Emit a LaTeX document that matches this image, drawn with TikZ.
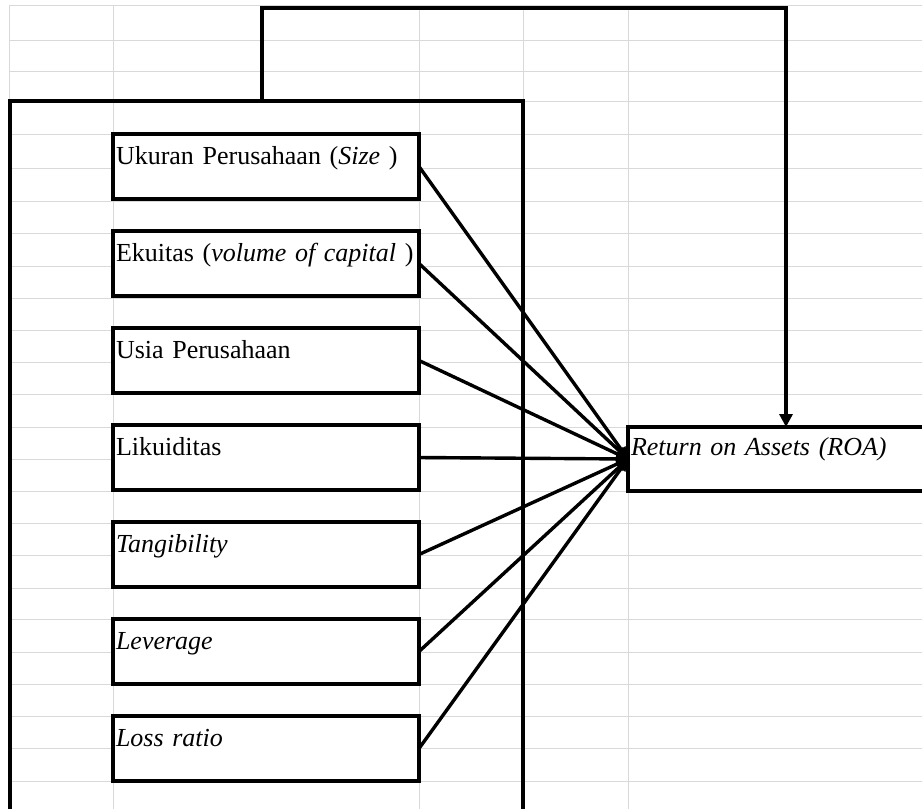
\documentclass[tikz,border=0pt]{standalone}
\usepackage{fontspec}
\setmainfont{Liberation Serif}
\usepackage{xcolor}
\usepackage{tikz}
\usetikzlibrary{arrows.meta, positioning}
\definecolor{gridgray}{HTML}{D9D9D9}

\begin{document}
\begin{tikzpicture}[
  x=1pt, y=-1pt,
  gridline/.style={draw=gridgray, line width=1pt},
  frame/.style={draw=black, line width=3.2pt},
  varbox/.style={draw, line width=3.2pt, fill=white, anchor=north west,
    outer sep=0pt, minimum width=306pt, text width=300pt, align=left,
    inner xsep=3pt, inner ysep=0pt, text height=30pt, text depth=35pt,
    font=\fontsize{26}{30}\selectfont},
  link/.style={line width=3.4pt, -{Triangle[length=12pt, width=10pt]}},
  node distance=32pt,
]
  \useasboundingbox (0,0) rectangle (922,809);
  \clip (0,0) rectangle (922,809);
  \fill[white] (0,0) rectangle (922,809);

  % sheet grid
  \foreach \gy in {5,40,71,101,134,168,201,233,266,298,330,362,394,427,459,491,523,555,588,619,652,684,716,748,781}
    \draw[gridline] (9,\gy) -- (922,\gy);
  \foreach \gx in {9,113,419,523,628}
    \draw[gridline] (\gx,5) -- (\gx,809);

  % outer frame
  \draw[frame] (10,820) |- (523,101) -- (523,820);

  % independent variables
  \node[varbox] (v1) at (113,134) {Ukuran Perusahaan (\textit{Size} )};
  \node[varbox, below=of v1] (v2) {\mbox{Ekuitas (\textit{volume of capital} )}};
  \node[varbox, below=of v2] (v3) {Usia Perusahaan};
  \node[varbox, below=of v3] (v4) {Likuiditas};
  \node[varbox, below=of v4] (v5) {\textit{Tangibility}};
  \node[varbox, below=of v5] (v6) {\textit{Leverage}};
  \node[varbox, below=of v6] (v7) {\textit{Loss ratio}};

  % dependent variable
  \node[varbox, minimum width=330pt, text width=324pt, text height=28pt,
    text depth=36pt] (roa) at (628,427) {\textit{Return on Assets (ROA)}};

  \foreach \i in {1,...,7}
    \draw[link] (v\i.east) -- (roa.west);

  % feedback from the frame
  \coordinate (fb) at (262,101);
  \coordinate (fbtop) at (786,8);
  \draw[link, -{Triangle[length=13pt, width=13pt]}] (fb) |- (fbtop) -- (fbtop |- roa.north);
\end{tikzpicture}
\end{document}
